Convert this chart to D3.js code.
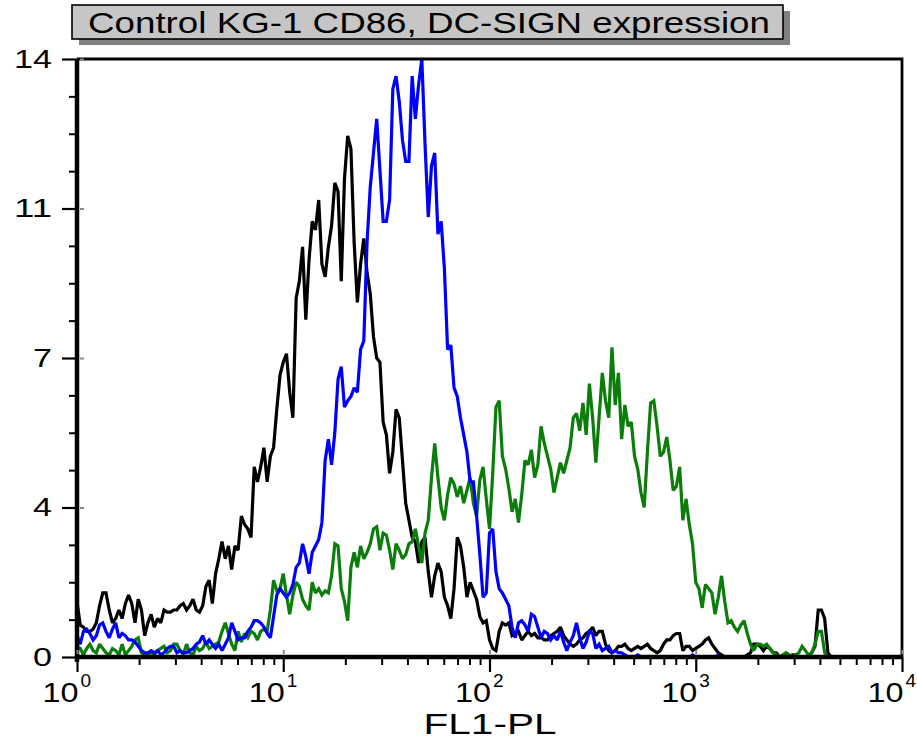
<!DOCTYPE html>
<html>
<head>
<meta charset="utf-8">
<script src="https://cdn.jsdelivr.net/npm/d3@7"></script>
<style>
html,body{margin:0;padding:0;background:#fff;}
svg{display:block;}
text{font-family:Arial,"Liberation Sans",sans-serif;}
</style>
</head>
<body>
<svg id="chart" width="917" height="740"></svg>
<script>
// ---------- data ----------
const chartTitle = "Control KG-1 CD86, DC-SIGN expression";
const xAxisTitle = "FL1-PL";
const channelsPerDecade = 64;            // histogram channels per log decade
const xTickValues = [1, 10, 100, 1000, 10000];
const xTickExponents = ["0", "1", "2", "3", "4"];
const yTickValues = [0, 3.5, 7, 10.5, 14];
const yTickLabels = ["0", "4", "7", "11", "14"];

// counts per channel (channel k at FL1 = 10^(k/64))
const blackCounts = [1.3,0.75,0.7,0.6,0.6,0.65,0.8,1.2,1.5,1.5,
1.1,0.8,0.9,1.1,0.9,1.25,1.45,1.25,0.8,1.35,
1.1,0.5,0.8,1.0,0.7,0.9,0.8,1.1,1.05,1.05,
1.1,1.1,1.2,1.25,1.1,1.2,1.35,1.1,1.05,1.2,
1.65,1.8,1.25,1.95,2.3,2.7,2.3,2.6,2.05,2.6,
2.5,3.3,3.1,3.0,2.8,4.45,4.1,4.45,4.9,4.1,
4.7,4.9,5.8,6.6,6.9,7.1,6.2,5.6,8.4,8.8,
9.6,7.9,9.3,10.2,10.0,10.7,9.2,8.9,9.6,10.1,
11.1,10.9,8.8,11.2,12.2,11.9,9.7,8.3,9.2,9.8,
9.0,8.5,7.5,7.0,6.9,5.5,5.2,4.3,4.8,5.8,
5.6,4.6,3.6,3.2,2.8,2.7,2.2,2.7,2.8,2.0,
1.4,1.9,2.2,2.0,1.4,1.2,0.9,1.6,2.8,2.6,
2.1,1.4,1.75,1.55,1.35,0.95,0.8,0.85,0.4,0.2,
0.15,0.6,0.8,0.75,0.8,0.5,0.55,0.6,0.4,0.5,
0.6,0.5,0.55,0.45,0.45,0.4,0.4,0.5,0.55,0.6,
0.7,0.5,0.4,0.3,0.25,0.3,0.4,0.45,0.55,0.6,
0.7,0.5,0.6,0.6,0.3,0.15,0.1,0.15,0.25,0.25,
0.3,0.2,0.15,0.2,0.25,0.2,0.25,0.3,0.2,0.15,
0.1,0.15,0.3,0.4,0.4,0.5,0.55,0.55,0.15,0.25,
0.25,0.15,0.2,0.25,0.3,0.4,0.45,0.3,0.2,0.1,
0.05,0,0,0,0,0,0,0,0.05,0.1,
0.3,0.3,0.25,0.15,0.25,0.2,0.1,0.1,0,0,
0,0,0.05,0.05,0,0,0,0,0.1,0.25,
1.1,1.1,0.9,0.1,0];

const blueCounts = [0.5,0.3,0.6,0.65,0.55,0.4,0.5,0.75,0.8,0.6,
0.45,0.65,0.8,0.45,0.55,0.5,0.4,0.4,0.35,0.25,
0.15,0.1,0.1,0.15,0.1,0.15,0.05,0.1,0.2,0.25,
0.25,0.1,0.15,0.1,0.1,0.15,0.2,0.3,0.35,0.5,
0.3,0.4,0.3,0.2,0.3,0.15,0.3,0.45,0.8,0.6,
0.4,0.45,0.45,0.6,0.7,0.85,0.85,0.8,0.7,0.55,
0.45,0.95,1.45,1.6,1.5,1.4,1.5,1.7,2.1,2.2,
2.65,2.35,1.95,2.45,2.6,2.75,3.15,4.6,5.1,4.5,
5.25,6.5,6.8,5.85,6.0,6.1,6.3,6.2,7.2,7.4,
9.7,11.0,11.8,12.6,11.4,10.2,10.2,10.7,13.3,13.6,
13.0,12.1,11.6,11.6,13.6,12.6,13.4,14.0,12.0,10.3,
11.5,11.8,9.9,10.2,9.1,7.2,7.3,6.3,6.1,5.6,
5.2,4.8,4.1,4.1,3.3,2.4,1.4,1.5,2.9,3.0,
2.0,1.6,1.5,1.35,1.2,0.7,0.45,0.8,0.85,0.75,
0.6,1.0,0.95,0.7,0.45,0.6,0.55,0.4,0.5,0.4,
0.6,0.35,0.15,0.35,0.5,0.8,0.45,0.2,0.35,0.6,
0.55,0.2,0.3,0.15,0.2,0.25,0.1,0.15,0.1,0.1,
0.05,0,0,0,0.05,0,0,0,0,0,
0,0,0,0,0,0,0,0,0,0,
0,0.05,0,0,0,0,0,0,0,0.05,
0,0];

const greenCounts = [0.25,0.2,0.05,0.2,0.3,0.15,0.1,0.3,0.2,0.1,
0.05,0.2,0.15,0.05,0.3,0.05,0.15,0.25,0.4,0.45,
0.1,0.05,0.05,0.1,0.05,0.15,0.2,0.25,0.1,0.15,
0.3,0.3,0.15,0.05,0.3,0.1,0.05,0.25,0.15,0.2,
0.35,0.2,0.25,0.3,0.35,0.6,0.8,0.55,0.3,0.15,
0.6,0.35,0.55,0.45,0.6,0.55,0.4,0.6,0.65,0.6,
1.1,1.8,1.55,1.6,1.95,1.45,1.0,1.45,1.75,1.65,
1.35,1.2,1.1,1.75,1.5,1.6,1.45,1.55,1.5,1.9,
2.65,2.6,1.6,1.3,0.85,2.1,2.45,2.1,2.6,2.3,
2.45,2.65,3.0,3.05,2.5,2.9,2.85,2.5,2.05,2.65,
2.5,2.3,2.4,2.65,2.7,3.0,2.6,2.2,2.9,3.2,
4.2,5.0,4.2,3.5,3.2,3.8,4.2,4.05,3.75,4.0,
3.6,3.9,4.2,3.6,3.3,4.15,4.45,3.7,3.0,4.3,
5.85,6.0,4.7,4.4,3.95,3.4,3.7,3.15,3.8,4.6,
4.5,4.85,4.2,4.5,5.4,5.0,4.7,4.4,3.85,4.2,
4.55,4.3,4.6,4.9,5.6,5.7,5.3,5.95,5.2,6.4,
5.6,4.55,5.6,6.65,6.0,5.6,7.25,5.9,6.65,5.1,
5.9,5.4,5.5,4.7,4.4,3.85,3.5,4.8,5.95,6.0,
5.4,4.7,4.8,5.15,4.6,3.9,4.0,4.45,3.2,3.7,
3.1,2.65,1.75,1.6,1.15,1.7,1.6,1.5,1.0,1.4,
1.9,1.3,0.8,0.85,0.7,0.6,0.75,0.85,0.55,0.3,
0.15,0.3,0.3,0.25,0.3,0.2,0.1,0.05,0,0.05,
0.1,0.05,0,0.05,0.1,0.25,0.15,0.05,0.1,0.3,
0.6,0.6,0.1,0];

const seriesList = [
  {name: "Control", values: blackCounts, color: "#000000"},
  {name: "DC-SIGN", values: greenCounts, color: "#0a7d0a"},
  {name: "CD86", values: blueCounts, color: "#0000ff"}
];

// ---------- layout ----------
const svg = d3.select("#chart");
const plot = {left: 77, right: 902, top: 59, bottom: 657};

const x = d3.scaleLog().domain([1, 10000]).range([plot.left, plot.right]);
const y = d3.scaleLinear().domain([0, 14]).range([plot.bottom, plot.top]);

// ---------- title box ----------
const tb = {x: 72, y: 5, w: 711, h: 34};
svg.append("rect").attr("x", tb.x + 7).attr("y", tb.y + 6).attr("width", tb.w).attr("height", tb.h)
  .attr("fill", "#808080");
svg.append("rect").attr("x", tb.x).attr("y", tb.y).attr("width", tb.w).attr("height", tb.h)
  .attr("fill", "#c6c6c6").attr("stroke", "#000").attr("stroke-width", 1.6);
svg.append("text").attr("x", tb.x + 16).attr("y", tb.y + 28)
  .attr("font-size", 30).attr("textLength", 682).attr("lengthAdjust", "spacingAndGlyphs")
  .text(chartTitle);

// ---------- curves ----------
const line = d3.line()
  .x((d, i) => x(Math.pow(10, i / channelsPerDecade)))
  .y(d => y(d));

const curves = svg.append("g");
seriesList.forEach(s => {
  curves.append("path")
    .datum(s.values)
    .attr("fill", "none")
    .attr("stroke", s.color)
    .attr("stroke-width", 3.2)
    .attr("stroke-linejoin", "miter")
    .attr("stroke-miterlimit", 2)
    .attr("d", line);
});

// ---------- frame ----------
svg.append("path")
  .attr("d", `M${plot.left},${plot.top}H${plot.right}V${plot.bottom}`)
  .attr("fill", "none").attr("stroke", "#000").attr("stroke-width", 2.8);

// ---------- y axis ----------
const yMinor = d3.range(0, 14.0001, 0.875).filter(v => !yTickValues.some(t => Math.abs(t - v) < 1e-6));
const yMinorAxis = svg.append("g").attr("transform", `translate(${plot.left},0)`)
  .call(d3.axisLeft(y).tickValues(yMinor).tickSize(8).tickSizeOuter(0).tickFormat(""));
yMinorAxis.select(".domain").remove();
yMinorAxis.selectAll("line").attr("stroke-width", 2);

const yAxis = svg.append("g").attr("transform", `translate(${plot.left},0)`)
  .call(d3.axisLeft(y).tickValues(yTickValues).tickSize(15).tickSizeOuter(0).tickPadding(10)
    .tickFormat((d, i) => yTickLabels[i]));
yAxis.select(".domain").attr("stroke-width", 4.5).attr("d", `M0,${plot.top}V${plot.bottom + 5}`);
yAxis.selectAll("line").attr("stroke-width", 2.2);
yAxis.selectAll("text").attr("font-size", 25).attr("fill", "#000")
  .attr("font-family", "Arial, 'Liberation Sans', sans-serif")
  .attr("textLength", (d, i) => yTickLabels[i].length * 19)
  .attr("lengthAdjust", "spacingAndGlyphs");
// small grey marks inside the plot at major ticks
yAxis.selectAll(".tick").append("line").attr("x1", 3).attr("x2", 7)
  .attr("stroke", "#8a8a8a").attr("stroke-width", 2);

// ---------- x axis ----------
const xMinor = [];
for (let dec = 1; dec < 10000; dec *= 10) for (let m = 2; m <= 9; m++) xMinor.push(dec * m);
const xMinorAxis = svg.append("g").attr("transform", `translate(0,${plot.bottom})`)
  .call(d3.axisBottom(x).tickValues(xMinor).tickSize(8).tickSizeOuter(0).tickFormat(""));
xMinorAxis.select(".domain").remove();
xMinorAxis.selectAll("line").attr("stroke-width", 2);

const xAxis = svg.append("g").attr("transform", `translate(0,${plot.bottom})`)
  .call(d3.axisBottom(x).tickValues(xTickValues).tickSize(15).tickSizeOuter(0).tickFormat(""));
xAxis.select(".domain").attr("stroke-width", 4.5).attr("d", `M${plot.left - 2},0H${plot.right}`);
xAxis.selectAll("line").attr("stroke-width", 2.2);
xAxis.selectAll(".tick").append("line").attr("y1", -3).attr("y2", -7)
  .attr("stroke", "#8a8a8a").attr("stroke-width", 2);
xAxis.selectAll(".tick").each(function(d, i) {
  d3.select(this).append("text")
    .attr("fill", "#000").attr("font-size", 27)
    .attr("text-anchor", "end").attr("x", 1).attr("y", 45)
    .attr("textLength", 36).attr("lengthAdjust", "spacingAndGlyphs")
    .text("10");
  d3.select(this).append("text")
    .attr("fill", "#000").attr("font-size", 19)
    .attr("text-anchor", "start").attr("x", 3).attr("y", 30)
    .text(xTickExponents[i]);
});

svg.append("text").attr("x", (plot.left + plot.right) / 2 - 66).attr("y", 734)
  .attr("font-size", 29).attr("textLength", 133).attr("lengthAdjust", "spacingAndGlyphs")
  .text(xAxisTitle);
</script>
</body>
</html>
